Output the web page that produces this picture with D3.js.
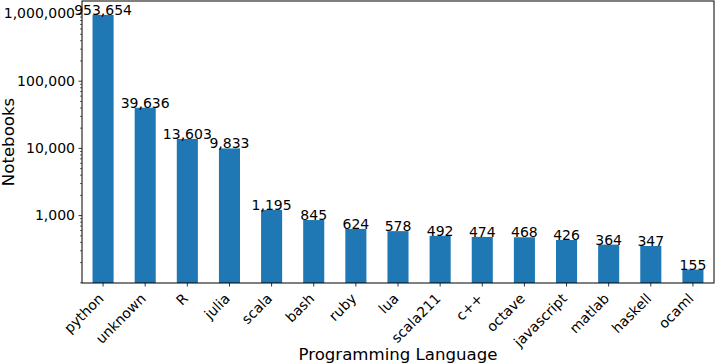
<!DOCTYPE html>
<html>
<head>
<meta charset="utf-8">
<script src="https://d3js.org/d3.v7.min.js"></script>
<style>
  body { margin: 0; background: #fff; }
  text { font-family: "DejaVu Sans", sans-serif; fill: #000; }
</style>
</head>
<body>
<div id="chart"></div>
<script>
// data
const languages = ["python", "unknown", "R", "julia", "scala", "bash", "ruby", "lua",
    "scala211", "c++", "octave", "javascript", "matlab", "haskell", "ocaml"];
const notebooks = [953654, 39636, 13603, 9833, 1195, 845, 624, 578,
    492, 474, 468, 426, 364, 347, 155];
const yTicks = [1000, 10000, 100000, 1000000];
const yDomain = [97.7, 1535000];

// dimensions
const margin = { top: 1, right: 6, bottom: 81, left: 82 },
    width = 720 - margin.left - margin.right,
    height = 364 - margin.top - margin.bottom;

const svg = d3.select("#chart")
    .append("svg")
    .attr("width", width + margin.left + margin.right)
    .attr("height", height + margin.top + margin.bottom)
    .append("g")
    .attr("transform", "translate(" + margin.left + "," + margin.top + ")");

// scales
const x = d3.scaleBand()
    .domain(languages)
    .range([0, width])
    .paddingInner(0.5)
    .paddingOuter(0.25);

const y = d3.scaleLog()
    .domain(yDomain)
    .range([height, 0]);

// bars
svg.append("g")
    .selectAll("rect")
    .data(languages)
    .enter()
    .append("rect")
    .attr("x", d => x(d))
    .attr("width", x.bandwidth())
    .attr("y", (d, i) => y(notebooks[i]))
    .attr("height", (d, i) => height - y(notebooks[i]))
    .attr("fill", "#1f77b4");

// value labels
svg.append("g")
    .selectAll("text")
    .data(languages)
    .enter()
    .append("text")
    .attr("x", d => x(d) + x.bandwidth() / 2)
    .attr("y", (d, i) => y(notebooks[i]))
    .attr("text-anchor", "middle")
    .style("font-size", "14px")
    .text((d, i) => d3.format(",")(notebooks[i]));

// Y axis, major + minor ticks
const minorTicks = y.ticks().filter(v => yTicks.indexOf(v) < 0);
svg.append("g")
    .call(d3.axisLeft(y).tickValues(minorTicks).tickSize(2).tickFormat(""))
    .call(g => g.select(".domain").remove())
    .selectAll("line").attr("stroke-width", 0.6);

const yAxis = svg.append("g")
    .call(d3.axisLeft(y).tickValues(yTicks).tickSize(3.5).tickPadding(3.5).tickFormat(d3.format(",")));
yAxis.select(".domain").remove();
yAxis.selectAll("text").style("font-size", "14px").attr("font-family", null);
yAxis.selectAll("line").attr("stroke-width", 0.8);

// X axis
const xAxis = svg.append("g")
    .attr("transform", "translate(0," + height + ")")
    .call(d3.axisBottom(x).tickSize(3.5).tickFormat(""));
xAxis.select(".domain").remove();
xAxis.selectAll("line").attr("stroke-width", 0.8);

svg.append("g")
    .selectAll("text")
    .data(languages)
    .enter()
    .append("text")
    .attr("transform", d => "translate(" + (x(d) + x.bandwidth() / 2 - 2) + "," + (height + 13) + ") rotate(-45)")
    .attr("text-anchor", "end")
    .attr("dy", "0.35em")
    .style("font-size", "14px")
    .text(d => d);

// frame
svg.append("rect")
    .attr("width", width)
    .attr("height", height)
    .attr("fill", "none")
    .attr("stroke", "#000")
    .attr("stroke-width", 1);

// axis labels
svg.append("text")
    .attr("text-anchor", "middle")
    .attr("x", width / 2)
    .attr("y", height + 77)
    .style("font-size", "16.6px")
    .text("Programming Language");

svg.append("text")
    .attr("text-anchor", "middle")
    .attr("transform", "rotate(-90)")
    .attr("x", -height / 2)
    .attr("y", -margin.left + 14)
    .style("font-size", "16.6px")
    .text("Notebooks");
</script>
</body>
</html>
